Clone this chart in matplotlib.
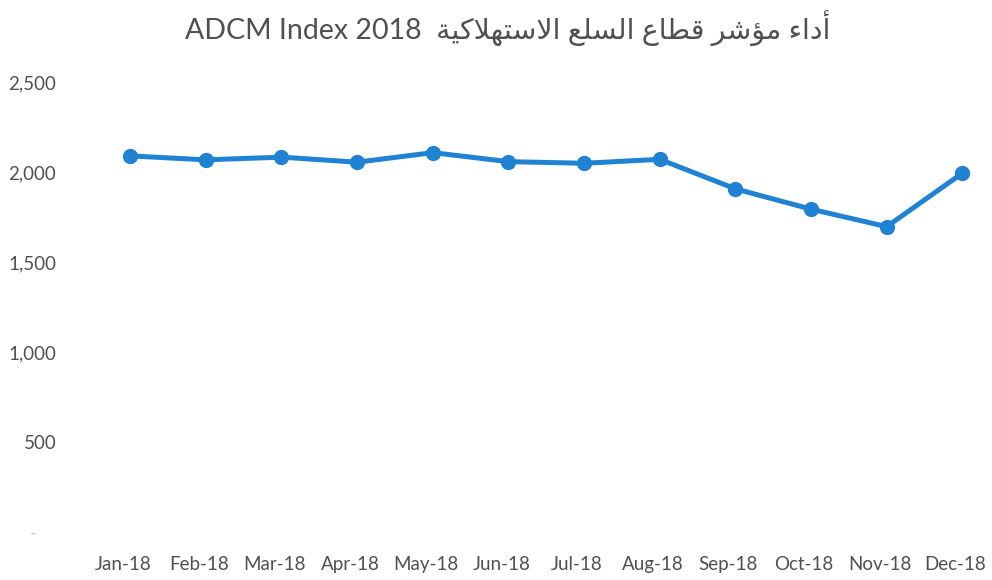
import matplotlib
matplotlib.use("Agg")
import matplotlib.pyplot as plt
import matplotlib.transforms as mtransforms
from matplotlib.ticker import FuncFormatter

months = ["Jan-18", "Feb-18", "Mar-18", "Apr-18", "May-18", "Jun-18",
          "Jul-18", "Aug-18", "Sep-18", "Oct-18", "Nov-18", "Dec-18"]
index_values = [2089, 2067, 2082, 2054, 2107, 2057,
                2048, 2070, 1906, 1793, 1696, 1993]
y_ticks = [0, 500, 1000, 1500, 2000, 2500]

title_ar = "أداء مؤشر قطاع السلع الاستهلاكية"
title_en = "ADCM Index 2018"

# matplotlib has no arabic shaping, so pick presentation forms by hand
DUAL = {"ت": 0xFE95, "س": 0xFEB1, "ش": 0xFEB5, "ط": 0xFEC1, "ع": 0xFEC9,
        "ق": 0xFED5, "ك": 0xFED9, "ل": 0xFEDD, "م": 0xFEE1, "ه": 0xFEE9,
        "ي": 0xFEF1}
RIGHT = {"أ": 0xFE83, "ؤ": 0xFE85, "ا": 0xFE8D, "ة": 0xFE93, "د": 0xFEA9,
         "ر": 0xFEAD, "لا": 0xFEFB}
ISOL = {"ء": 0xFE80}


def shape_arabic(text):
    chars, i = [], 0
    while i < len(text):
        if text[i] == "ل" and i + 1 < len(text) and text[i + 1] == "ا":
            chars.append("لا")
            i += 2
        else:
            chars.append(text[i])
            i += 1
    out = []
    for k, c in enumerate(chars):
        prev_j = k > 0 and chars[k - 1] in DUAL
        next_j = k + 1 < len(chars) and (chars[k + 1] in DUAL or chars[k + 1] in RIGHT)
        if c in DUAL:
            idx = {(False, False): 0, (True, False): 1,
                   (False, True): 2, (True, True): 3}[(prev_j, next_j)]
            out.append(chr(DUAL[c] + idx))
        elif c in RIGHT:
            out.append(chr(RIGHT[c] + (1 if prev_j else 0)))
        elif c in ISOL:
            out.append(chr(ISOL[c]))
        else:
            out.append(c)
    return "".join(out)[::-1]  # visual order, right to left


plt.rcParams["font.family"] = ["Lato", "DejaVu Sans"]
gray = "#505050"
blue = "#1F82D3"

fig = plt.figure(figsize=(9.92, 5.8), dpi=100)
ax = fig.add_axes([0.093, 0.0828, 0.9, 0.776])

x = list(range(len(months)))
ax.plot(x, index_values, "-o", color=blue, lw=3.6, markersize=10,
        solid_capstyle="round")

ax.set_xlim(-0.5, 11.3)
ax.set_ylim(0, 2500)
ax.set_xticks(x)
ax.set_xticklabels(months)
ax.set_yticks(y_ticks)
ax.yaxis.set_major_formatter(FuncFormatter(lambda v, p: "-    " if v == 0 else f"{v:,.0f}"))

for s in ax.spines.values():
    s.set_visible(False)
ax.tick_params(axis="both", length=0, labelsize=13.5, labelcolor=gray)
ax.tick_params(axis="y", pad=26)
ax.tick_params(axis="x", pad=17)
ax.get_yticklabels()[0].set_color("#d0d0d0")

# x labels sit a little left of their points, as in the original
shift = mtransforms.ScaledTranslation(-0.07, 0, fig.dpi_scale_trans)
for lab in ax.get_xticklabels():
    lab.set_transform(lab.get_transform() + shift)

fig.text(0.512, 0.932, title_en + "  " + shape_arabic(title_ar),
         ha="center", va="baseline", fontsize=20.5, color=gray)

fig.savefig("out.png", dpi=100)
